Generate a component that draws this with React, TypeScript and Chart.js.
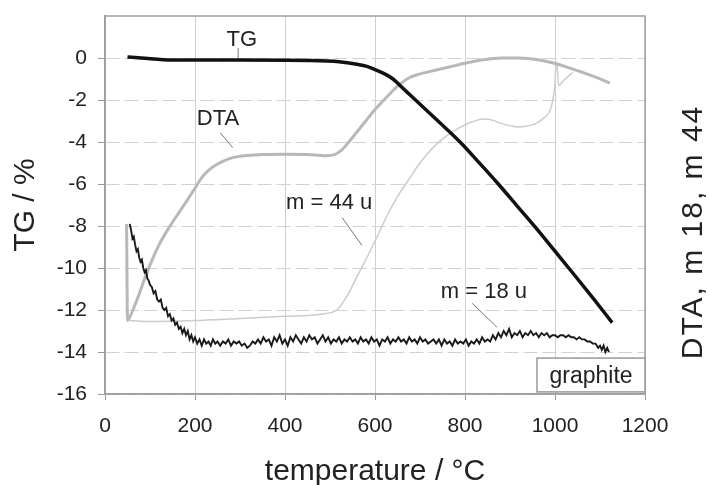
import { useEffect, useRef } from "react";
import { Chart, registerables } from "chart.js";

Chart.register(...registerables);

const FONT = "'Liberation Sans', Arial, Helvetica, sans-serif";

// ---- data ----
const xTicks = [0, 200, 400, 600, 800, 1000, 1200];
const yTicks = [-16, -14, -12, -10, -8, -6, -4, -2, 0];

const tgTemp = [50, 80, 150, 300, 450, 520, 560, 582, 600, 618, 640, 655, 670, 690, 740, 789, 832, 874, 916, 958, 1000, 1040, 1085, 1127];
const tgVal = [0.05, 0.0, -0.1, -0.1, -0.12, -0.18, -0.3, -0.4, -0.55, -0.72, -1.0, -1.3, -1.6, -2.0, -3.0, -4.0, -5.0, -6.0, -7.05, -8.1, -9.2, -10.25, -11.45, -12.6];

const dtaTemp = [48, 50, 60, 75, 90, 105, 120, 140, 160, 182, 200, 215, 230, 250, 275, 300, 350, 400, 450, 490, 510, 525, 540, 555, 570, 585, 600, 620, 640, 655, 675, 693, 730, 767, 800, 841, 880, 915, 950, 989, 1025, 1063, 1095, 1122];
const dtaVal = [-7.9, -12.5, -12.1, -11.3, -10.4, -9.6, -8.9, -8.15, -7.5, -6.8, -6.2, -5.7, -5.35, -5.05, -4.8, -4.68, -4.6, -4.58, -4.6, -4.65, -4.6, -4.4, -4.05, -3.65, -3.25, -2.85, -2.45, -2.0, -1.55, -1.25, -0.95, -0.8, -0.6, -0.42, -0.25, -0.08, 0, 0, -0.05, -0.2, -0.42, -0.7, -0.95, -1.2];

const m44Temp = [55, 100, 200, 300, 400, 480, 515, 530, 544, 560, 582, 605, 627, 650, 678, 693, 715, 737, 760, 789, 815, 841, 860, 878, 900, 915, 935, 959, 975, 989, 996, 1000, 1002, 1004, 1008, 1020, 1033, 1040];
const m44Val = [-12.5, -12.55, -12.5, -12.4, -12.3, -12.2, -12.0, -11.6, -11.1, -10.4, -9.5, -8.5, -7.5, -6.6, -5.7, -5.2, -4.6, -4.1, -3.7, -3.3, -3.05, -2.9, -2.95, -3.1, -3.22, -3.28, -3.25, -3.1, -2.85, -2.5, -1.9, -1.2, -0.3, -0.2, -1.3, -1.05, -0.8, -0.7];

const m18Temp = [
  55, 58, 61, 64, 67, 70, 73, 76, 79, 82, 85, 88, 91, 94, 97, 100, 104, 108, 112, 116, 120, 124, 128, 132, 136, 140, 144, 148, 152, 156,
  160, 164, 168, 172, 176, 180, 184, 188, 192, 196, 200, 205, 210, 215, 220, 225, 230, 235, 240, 245, 250, 256, 262, 268, 274, 280, 286, 292, 298, 304,
  310, 316, 322, 328, 334, 340, 346, 352, 358, 364, 370, 376, 382, 388, 394, 400, 406, 412, 418, 424, 430, 436, 442, 448, 454, 460, 466, 472, 478, 484,
  490, 496, 502, 508, 514, 520, 526, 532, 538, 544, 550, 556, 562, 568, 574, 580, 586, 592, 598, 604, 610, 616, 622, 628, 634, 640, 646, 652, 658, 664,
  670, 676, 682, 688, 694, 700, 706, 712, 718, 724, 730, 736, 742, 748, 754, 760, 766, 772, 778, 784, 790, 796, 802, 808, 814, 820, 826, 832, 838, 844,
  850, 856, 862, 868, 874, 880, 886, 892, 898, 904, 910, 916, 922, 928, 934, 940, 946, 952, 958, 964, 970, 976, 982, 988, 994, 1000, 1006, 1012, 1018, 1024,
  1030, 1036, 1042, 1048, 1054, 1060, 1066, 1072, 1078, 1084, 1090, 1096, 1100, 1104, 1108, 1112, 1116, 1120,
];
const m18Val = [
  -7.9, -8.2, -8.6, -8.5, -8.9, -9.2, -9.1, -9.5, -9.7, -9.6, -10.0, -10.2, -10.1, -10.5, -10.6, -10.8, -10.9, -11.2, -11.1, -11.5, -11.6, -11.5, -11.9, -12.0, -11.9, -12.3, -12.2, -12.5, -12.4, -12.7,
  -12.6, -12.9, -12.8, -13.1, -12.9, -13.2, -13.0, -13.4, -13.2, -13.5, -13.3, -13.6, -13.4, -13.7, -13.4, -13.6, -13.5, -13.7, -13.4, -13.6, -13.5, -13.7, -13.5, -13.6, -13.4, -13.7, -13.5, -13.6, -13.5, -13.7,
  -13.6, -13.8, -13.7, -13.5, -13.6, -13.4, -13.6, -13.3, -13.5, -13.4, -13.7, -13.3, -13.5, -13.2, -13.6, -13.4, -13.7, -13.3, -13.5, -13.2, -13.4, -13.6, -13.3, -13.5, -13.2, -13.4, -13.3, -13.6, -13.4, -13.2,
  -13.5, -13.3, -13.6, -13.4, -13.5, -13.3, -13.6, -13.4, -13.5, -13.3, -13.5, -13.4, -13.6, -13.3, -13.5, -13.4, -13.6, -13.3, -13.5, -13.4, -13.7, -13.4, -13.5, -13.3, -13.6, -13.4, -13.5, -13.3, -13.5, -13.4,
  -13.6, -13.3, -13.5, -13.4, -13.6, -13.3, -13.5, -13.4, -13.6, -13.5, -13.4, -13.6, -13.4, -13.7, -13.4, -13.6, -13.5, -13.7, -13.4, -13.6, -13.5, -13.6, -13.4, -13.7, -13.5, -13.6, -13.4, -13.6, -13.3, -13.5,
  -13.4, -13.5, -13.2, -13.4, -13.1, -13.3, -13.0, -13.2, -12.9, -13.3, -13.1, -13.2, -13.0, -13.3, -13.1, -13.2, -13.0, -13.2, -13.1, -13.3, -13.1, -13.2, -13.1, -13.3, -13.2, -13.2, -13.3, -13.2, -13.2, -13.3,
  -13.2, -13.3, -13.3, -13.4, -13.3, -13.4, -13.4, -13.5, -13.5, -13.6, -13.6, -13.8, -13.7, -13.9, -13.7, -14.0, -13.8, -14.0,
];

// ---- annotation anchors (in data units) ----
const labelTexts = ["TG", "DTA", "m = 44 u", "m = 18 u"];
const labelAtX = [304, 251, 498, 842];
const labelAtY = [0.57, -3.18, -7.17, -11.44];
const leaderFromX = [296, 256, 527, 816];
const leaderFromY = [0.47, -3.56, -7.6, -11.68];
const leaderToX = [296, 284, 571, 871];
const leaderToY = [0.0, -4.27, -8.93, -12.82];
const boxLabel = "graphite";
const boxX = [960, 1200];
const boxY = [-14.29, -15.9];
const boxTextAt = [1080, -15.46];

const pts = (xs: number[], ys: number[]) => xs.map((x, i) => ({ x, y: ys[i] }));

const overlay = {
  id: "overlay",
  beforeDatasetsDraw(chart: any) {
    const { ctx, chartArea: a } = chart;
    ctx.save();
    ctx.strokeStyle = "#a0a0a0";
    ctx.lineWidth = 1.5;
    ctx.strokeRect(a.left, a.top, a.right - a.left, a.bottom - a.top);
    ctx.restore();
  },
  afterDatasetsDraw(chart: any) {
    const { ctx, chartArea: a } = chart;
    const xs = chart.scales.x;
    const ys = chart.scales.y;
    ctx.save();
    ctx.strokeStyle = "#777";
    ctx.lineWidth = 1;
    for (let i = 0; i < labelTexts.length; i++) {
      ctx.beginPath();
      ctx.moveTo(xs.getPixelForValue(leaderFromX[i]), ys.getPixelForValue(leaderFromY[i]));
      ctx.lineTo(xs.getPixelForValue(leaderToX[i]), ys.getPixelForValue(leaderToY[i]));
      ctx.stroke();
    }
    ctx.fillStyle = "#222";
    ctx.font = `22px ${FONT}`;
    ctx.textAlign = "center";
    ctx.textBaseline = "alphabetic";
    for (let i = 0; i < labelTexts.length; i++) {
      ctx.fillText(labelTexts[i], xs.getPixelForValue(labelAtX[i]), ys.getPixelForValue(labelAtY[i]));
    }
    const bx1 = xs.getPixelForValue(boxX[0]);
    const bx2 = xs.getPixelForValue(boxX[1]);
    const by1 = ys.getPixelForValue(boxY[0]);
    const by2 = ys.getPixelForValue(boxY[1]);
    ctx.fillStyle = "#fff";
    ctx.fillRect(bx1, by1, bx2 - bx1, by2 - by1);
    ctx.strokeStyle = "#999";
    ctx.lineWidth = 1.5;
    ctx.strokeRect(bx1, by1, bx2 - bx1, by2 - by1);
    ctx.fillStyle = "#222";
    ctx.font = `23px ${FONT}`;
    ctx.fillText(boxLabel, xs.getPixelForValue(boxTextAt[0]), ys.getPixelForValue(boxTextAt[1]));
    ctx.save();
    ctx.translate(a.right + 57, (a.top + a.bottom) / 2 + 27);
    ctx.rotate(-Math.PI / 2);
    ctx.font = `30px ${FONT}`;
    (ctx as any).letterSpacing = "2px";
    ctx.fillStyle = "#222";
    ctx.textAlign = "center";
    ctx.textBaseline = "alphabetic";
    ctx.fillText("DTA, m 18, m 44", 0, 0);
    ctx.restore();
    ctx.restore();
  },
};

export default function App() {
  const ref = useRef<HTMLCanvasElement>(null);
  useEffect(() => {
    const chart = new Chart(ref.current as HTMLCanvasElement, {
      type: "scatter",
      data: {
        datasets: [
          { label: "TG", data: pts(tgTemp, tgVal), showLine: true, borderColor: "#111", borderWidth: 3.5, pointRadius: 0, cubicInterpolationMode: "monotone" },
          { label: "m = 18 u", data: pts(m18Temp, m18Val), showLine: true, borderColor: "#1a1a1a", borderWidth: 1.9, pointRadius: 0 },
          { label: "DTA", data: pts(dtaTemp, dtaVal), showLine: true, borderColor: "#b8b8b8", borderWidth: 3, pointRadius: 0, cubicInterpolationMode: "monotone" },
          { label: "m = 44 u", data: pts(m44Temp, m44Val), showLine: true, borderColor: "#cccccc", borderWidth: 1.5, pointRadius: 0, cubicInterpolationMode: "monotone" },
        ],
      },
      options: {
        animation: false,
        responsive: false,
        devicePixelRatio: 1,
        layout: { padding: { top: 16, right: 65, bottom: 0, left: 0 } },
        plugins: { legend: { display: false }, tooltip: { enabled: false } },
        scales: {
          x: {
            type: "linear",
            min: 0,
            max: 1200,
            afterBuildTicks: (s: any) => {
              s.ticks = xTicks.map((v) => ({ value: v }));
            },
            ticks: { font: { family: FONT, size: 21 }, color: "#222", padding: 14, maxRotation: 0, callback: (v: any) => String(v) },
            grid: { color: "#cfcfcf", lineWidth: 1, tickLength: 6, tickColor: "#999" },
            border: { color: "#999", width: 1.5 },
            title: {
              display: true,
              text: "temperature / °C",
              color: "#222",
              font: { family: FONT, size: 30, lineHeight: 1 },
              padding: { top: 0, bottom: -1.5 },
            },
            afterFit: (s: any) => {
              s.height = 91;
              s.paddingLeft = 0;
              s.paddingRight = 0;
            },
          },
          y: {
            type: "linear",
            min: -16,
            max: 2,
            afterBuildTicks: (s: any) => {
              s.ticks = yTicks.map((v) => ({ value: v }));
            },
            ticks: { font: { family: FONT, size: 21 }, color: "#222", padding: 11, callback: (v: any) => String(v) },
            grid: { color: "#d2d2d2", lineWidth: 1, tickLength: 7, tickColor: "#999" },
            border: { color: "#999", width: 1.5, dash: [14, 5] },
            title: {
              display: true,
              text: "TG / %",
              color: "#222",
              font: { family: FONT, size: 30, lineHeight: 1 },
              padding: { top: 11, bottom: 0 },
            },
            afterFit: (s: any) => {
              s.width = 105;
              s.paddingTop = 0;
              s.paddingBottom = 0;
            },
          },
        },
      },
      plugins: [overlay],
    } as any);
    return () => chart.destroy();
  }, []);
  return (
    <div style={{ position: "absolute", left: 0, top: 0, width: 710, height: 485, background: "#fff" }}>
      <canvas ref={ref} width={710} height={485} style={{ display: "block" }} />
    </div>
  );
}
